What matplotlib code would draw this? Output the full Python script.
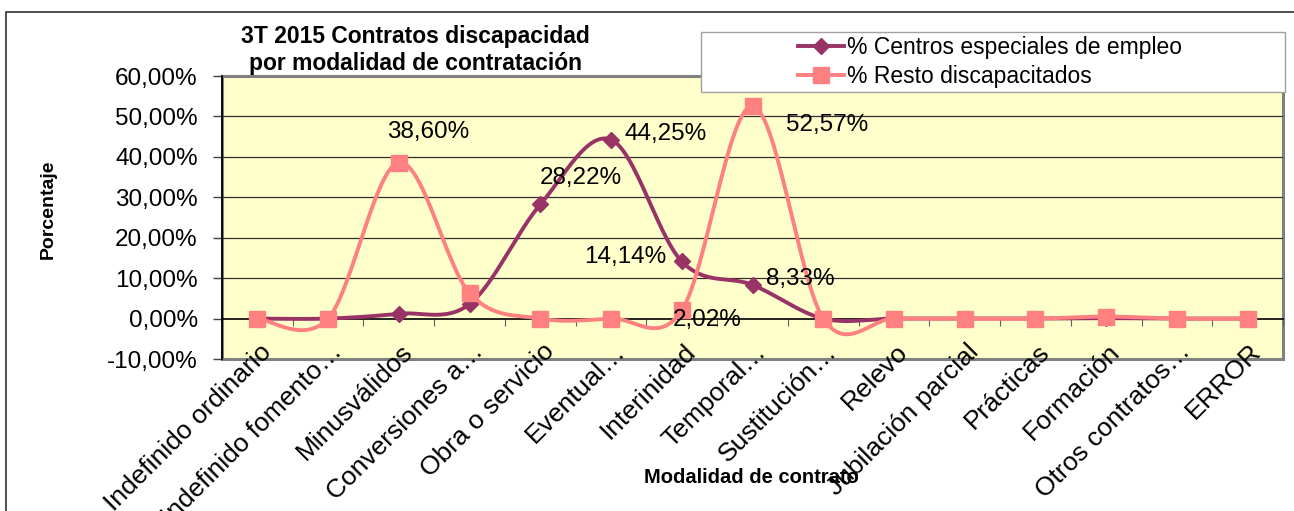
import numpy as np
import matplotlib.pyplot as plt
from matplotlib.patches import Rectangle
from matplotlib.lines import Line2D

categories = ["Indefinido ordinario", "Indefinido fomento…", "Minusválidos",
              "Conversiones a…", "Obra o servicio", "Eventual…", "Interinidad",
              "Temporal…", "Sustitución…", "Relevo", "Jubilación parcial",
              "Prácticas", "Formación", "Otros contratos…", "ERROR"]
centros = [0.0, 0.0, 1.2, 3.6, 28.22, 44.25, 14.14, 8.33, 0.0, 0.0, 0.0, 0.0, 0.1, 0.0, 0.0]
resto = [0.0, 0.0, 38.60, 6.3, 0.0, 0.0, 2.02, 52.57, 0.0, 0.0, 0.0, 0.0, 0.5, 0.0, 0.0]

# labels shown in the chart: index -> offset px
labels_centros = {4: (41, 26), 5: (55, 6), 6: (-57, 4), 7: (48, 6)}
labels_resto = {2: (29, 31), 6: (25, -10), 7: (75, -19)}

PURPLE = "#993366"
SALMON = "#FF8080"
FONT = "Liberation Sans"
FS = 17.5


def smooth(x, y, n=30):
    # Excel-like smoothed line (Catmull-Rom as cubic Bezier)
    x = np.asarray(x, float)
    y = np.asarray(y, float)
    px = np.concatenate([[x[0]], x, [x[-1]]])
    py = np.concatenate([[y[0]], y, [y[-1]]])
    t = np.linspace(0, 1, n)[:, None]
    xs, ys = [], []
    for i in range(1, len(px) - 2):
        p0 = np.array([px[i], py[i]])
        p3 = np.array([px[i + 1], py[i + 1]])
        p1 = p0 + (np.array([px[i + 1], py[i + 1]]) - np.array([px[i - 1], py[i - 1]])) / 6
        p2 = p3 - (np.array([px[i + 2], py[i + 2]]) - np.array([px[i], py[i]])) / 6
        b = ((1 - t) ** 3) * p0 + 3 * ((1 - t) ** 2) * t * p1 + 3 * (1 - t) * t ** 2 * p2 + t ** 3 * p3
        xs.append(b[:, 0])
        ys.append(b[:, 1])
    return np.concatenate(xs), np.concatenate(ys)


def pct(v):
    return f"{v:.2f}%".replace(".", ",")


fig = plt.figure(figsize=(12.94, 5.11), dpi=100)
W, H = 1294, 511
ax = fig.add_axes([222 / W, 1 - 359 / H, (1283 - 222) / W, (359 - 76) / H])
ax.set_facecolor("#FFFFCC")

x = np.arange(len(categories))
ax.set_xlim(-0.5, len(categories) - 0.5)
ax.set_ylim(-10, 60)

yt = np.arange(-10, 61, 10)
ax.set_yticks(yt)
ax.set_yticklabels([pct(v) for v in yt], fontsize=FS, family=FONT)
ax.tick_params(axis="y", length=6.5, width=1, pad=11, color="#404040")
for v in yt[1:-1]:
    if v != 0:
        ax.axhline(v, color="#303030", lw=0.9, zorder=1)

# category axis crosses at 0, tick marks on it
ax.spines["bottom"].set_position(("data", 0))
ax.spines["bottom"].set_color("black")
ax.spines["bottom"].set_linewidth(1.2)
ax.set_xticks(np.arange(len(categories) + 1) - 0.5)
ax.set_xticklabels([])
ax.tick_params(axis="x", length=5, width=0.8, color="#606060")
ax.spines["left"].set_color("black")
ax.spines["left"].set_linewidth(1.3)
for s in ["top", "right"]:
    ax.spines[s].set_visible(False)
ax.add_patch(Rectangle((0, 0), 1, 1, transform=ax.transAxes, fill=False,
                       edgecolor="#808080", lw=2.2, zorder=0.5, clip_on=False))

# category labels below the plot area
for i, name in enumerate(categories):
    ax.annotate(name, (x[i], -10), xytext=(10, 11), textcoords="offset pixels",
                ha="right", va="center", rotation=45, rotation_mode="anchor",
                fontsize=19, family=FONT, annotation_clip=False)

for vals, color, marker, ms in [(centros, PURPLE, "D", 8.5), (resto, SALMON, "s", 12)]:
    sx, sy = smooth(x, vals)
    ax.plot(sx, sy, color=color, lw=2.8, zorder=3, solid_capstyle="round")
    ax.plot(x, vals, ls="none", marker=marker, ms=ms, color=color, zorder=4)

for vals, lab in [(centros, labels_centros), (resto, labels_resto)]:
    for i, (dx, dy) in lab.items():
        ax.annotate(pct(vals[i]), (x[i], vals[i]), xytext=(dx, dy), textcoords="offset pixels",
                    ha="center", va="center", fontsize=FS, family=FONT, zorder=5)

fig.text(415 / W, 1 - 37 / H, "3T 2015 Contratos discapacidad", ha="center", va="center",
         fontsize=16.5, fontweight="bold", family=FONT)
fig.text(415 / W, 1 - 63 / H, "por modalidad de contratación", ha="center", va="center",
         fontsize=16.5, fontweight="bold", family=FONT)
fig.text(48 / W, 1 - 209 / H, "Porcentaje", rotation=90, ha="center", va="center",
         fontsize=14, fontweight="bold", family=FONT)
fig.text(751 / W, 1 - 477 / H, "Modalidad de contrato", ha="center", va="center",
         fontsize=14.5, fontweight="bold", family=FONT)

# legend box
fig.patches.append(Rectangle((701 / W, 1 - 92 / H), (1285 - 701) / W, 60 / H,
                             transform=fig.transFigure, facecolor="white",
                             edgecolor="#A0A0A0", lw=1, zorder=6))
handles = [Line2D([], [], color=PURPLE, lw=2.8, marker="D", ms=8),
           Line2D([], [], color=SALMON, lw=2.8, marker="s", ms=11)]
leg = fig.legend(handles, ["% Centros especiales de empleo", "% Resto discapacitados"],
                 loc="center left", bbox_to_anchor=(798 / W, 1 - 62 / H), frameon=False,
                 prop={"family": FONT, "size": 16.5}, handlelength=2.0, handletextpad=0.15,
                 labelspacing=0.25, borderaxespad=0, borderpad=0)
leg.set_zorder(7)

# outer chart border
fig.patches.append(Rectangle((6 / W, -0.1), 1.2, 1 - 12 / H + 0.1, transform=fig.transFigure,
                             fill=False, edgecolor="#303030", lw=1.2))

fig.savefig("out.png", dpi=100)
